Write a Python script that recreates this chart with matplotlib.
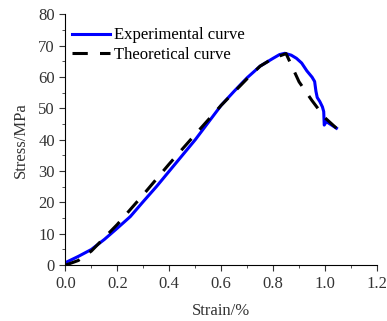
import matplotlib
matplotlib.use("Agg")
import matplotlib.pyplot as plt
from matplotlib.ticker import MultipleLocator

exp_strain = [0, 0.05, 0.1, 0.15, 0.2, 0.25, 0.3, 0.35, 0.4, 0.45, 0.5, 0.55, 0.6, 0.65,
              0.7, 0.75, 0.8, 0.825, 0.845, 0.87, 0.89, 0.91, 0.93, 0.95, 0.96, 0.965,
              0.97, 0.98, 0.99, 0.995, 0.997, 1.005, 1.02, 1.044]
exp_stress = [0.8, 2.8, 5, 8.2, 11.8, 15.5, 20.3, 25, 30, 35, 40, 45.5, 51, 55.5,
              59.8, 63.5, 66, 67.2, 67.6, 67, 66, 64.5, 62, 60, 58.6, 55.5,
              53.5, 52.2, 50.5, 49, 44.7, 45.8, 45, 43.7]

theo_strain = [0, 0.05, 0.1, 0.2, 0.3, 0.4, 0.5, 0.6, 0.7, 0.75, 0.8, 0.85, 0.9, 0.95, 1.0, 1.044]
theo_stress = [0, 1.5, 4.5, 13, 22.5, 32.3, 41.7, 51, 59.5, 63.5, 66, 67.5, 58.5, 52.5, 47, 43.7]

plt.rcParams['font.family'] = ['Liberation Serif', 'DejaVu Serif']
fig = plt.figure(figsize=(3.87, 3.21), dpi=100)
ax = fig.add_axes([0.169, 0.174, 0.805, 0.781])

ax.plot(exp_strain, exp_stress, color='#0000ff', lw=2.2, label='Experimental curve')
ax.plot(theo_strain, theo_stress, color='black', lw=2.2, dashes=(5, 4), label='Theoretical curve')

ax.set_xlim(0, 1.2)
ax.set_ylim(0, 80)
ax.xaxis.set_major_locator(MultipleLocator(0.2))
ax.xaxis.set_minor_locator(MultipleLocator(0.1))
ax.yaxis.set_major_locator(MultipleLocator(10))
ax.yaxis.set_minor_locator(MultipleLocator(5))
ax.set_xticks([0, 0.2, 0.4, 0.6, 0.8, 1.0, 1.2])
ax.set_xticklabels(["0.0", "0.2", "0.4", "0.6", "0.8", "1.0", "1.2"])
ax.spines['top'].set_visible(False)
ax.spines['right'].set_visible(False)
ax.tick_params(which='both', direction='out', labelsize=12, colors='#333333', labelcolor='#333333')
ax.tick_params(which='major', length=4)
ax.tick_params(which='minor', length=2)
ax.set_xlabel('Strain/%', fontsize=12, color='#333333', labelpad=8)
ax.set_ylabel('Stress/MPa', fontsize=12, color='#333333', labelpad=7)
ax.legend(loc='upper left', bbox_to_anchor=(0.0, 0.975), frameon=False, fontsize=12,
          handlelength=2.3, borderaxespad=0.0, labelspacing=0.2, handletextpad=0.2)

fig.savefig('out.png', dpi=100)
